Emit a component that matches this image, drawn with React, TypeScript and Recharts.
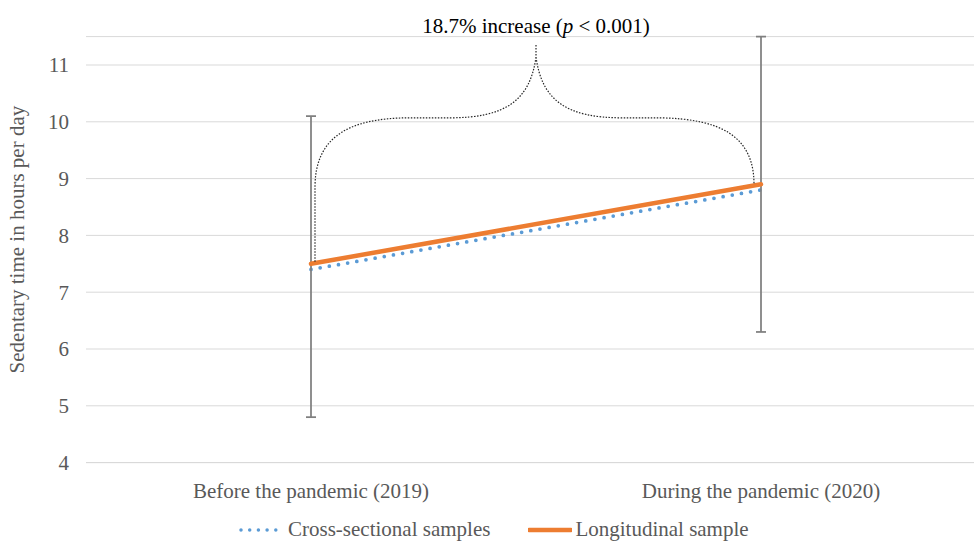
import React from 'react'
import {
  LineChart,
  Line,
  XAxis,
  YAxis,
  CartesianGrid,
  Legend,
  ErrorBar,
  ReferenceLine,
} from 'recharts'

const categories = ['Before the pandemic (2019)', 'During the pandemic (2020)']
const crossSectional = [7.4, 8.8]
const longitudinal = [7.5, 8.9]
const errLow = [2.7, 2.6]
const errHigh = [2.6, 2.6]
const yTicks = [4, 5, 6, 7, 8, 9, 10, 11]

// brace annotation levels (in hours)
const braceShoulder = 10.07
const braceCusp = 11.14
const braceTip = 11.38
const braceTextY = 11.56
const annotation = '18.7% increase'

const FONT = "'Liberation Serif', 'Times New Roman', serif"
const GREY_TEXT = '#595959'
const BLUE = '#5B9BD5'
const ORANGE = '#ED7D31'

const data = categories.map((name, i) => ({
  name,
  cross: crossSectional[i],
  longi: longitudinal[i],
  err: [errLow[i], errHigh[i]],
}))

const Brace = (props: any) => {
  const { x1, y1, x2, y2 } = props
  if ([x1, y1, x2, y2].some((v) => typeof v !== 'number' || isNaN(v))) return null
  // pixels per hour from the segment itself
  const ppu = (y1 - y2) / (longitudinal[1] - longitudinal[0])
  const yv = (v: number) => y1 - (v - longitudinal[0]) * ppu
  const xl = x1 + 4
  const xr = x2 - 7
  const xm = (x1 + x2) / 2
  const ys = yv(braceShoulder)
  const yc = yv(braceCusp)
  const yt = yv(braceTip)
  const d = [
    `M ${xl} ${y1 - 2}`,
    `L ${xl} ${yv(8.85)}`,
    `C ${xl} ${ys + 22} ${xl + 30} ${ys} ${xl + 95} ${ys}`,
    `L ${xm - 86} ${ys}`,
    `C ${xm - 31} ${ys} ${xm - 6} ${ys - 17} ${xm} ${yc}`,
    `L ${xm} ${yt}`,
    `M ${xm} ${yc}`,
    `C ${xm + 6} ${ys - 17} ${xm + 31} ${ys} ${xm + 86} ${ys}`,
    `L ${xr - 94} ${ys}`,
    `C ${xr - 34} ${ys + 1} ${xr} ${ys + 18} ${xr} ${y2}`,
  ].join(' ')
  return (
    <g>
      <path d={d} fill="none" stroke="#262626" strokeWidth={1.2} strokeDasharray="1.5 1.5" />
      <text
        x={xm}
        y={yv(braceTextY)}
        textAnchor="middle"
        fontFamily={FONT}
        fontSize={21}
        fill="#000"
      >
        {annotation} (<tspan fontStyle="italic">p</tspan> &lt; 0.001)
      </text>
    </g>
  )
}

const LegendContent = () => (
  <div
    style={{
      display: 'flex',
      alignItems: 'center',
      paddingLeft: 238,
      fontFamily: FONT,
      fontSize: 21,
      color: GREY_TEXT,
      whiteSpace: 'nowrap',
    }}
  >
    <svg width={46} height={12} style={{ marginRight: 4 }}>
      <line x1={3} y1={6} x2={43} y2={6} stroke={BLUE} strokeWidth={3.5} strokeDasharray="0 8.7" strokeLinecap="round" />
    </svg>
    <span>Cross-sectional samples</span>
    <svg width={44} height={12} style={{ marginLeft: 38, marginRight: 3 }}>
      <line x1={1} y1={6} x2={43} y2={6} stroke={ORANGE} strokeWidth={4.5} strokeLinecap="round" />
    </svg>
    <span>Longitudinal sample</span>
  </div>
)

export default function App() {
  return (
    <div
      style={{
        position: 'absolute',
        left: 0,
        top: 0,
        width: 974,
        height: 542,
        overflow: 'hidden',
        background: '#fff',
      }}
    >
      <LineChart
        width={1000}
        height={542}
        data={data}
        margin={{ top: 36.6, right: 14, left: 0, bottom: 19.4 }}
      >
        <CartesianGrid vertical={false} stroke="#D9D9D9" strokeWidth={1} />
        <XAxis
          dataKey="name"
          scale="band"
          height={60}
          tickSize={0}
          tickMargin={20}
          axisLine={{ stroke: '#D9D9D9' }}
          tick={{ fill: GREY_TEXT, fontSize: 21, fontFamily: FONT }}
        />
        <YAxis
          width={86}
          domain={[4, 11.5]}
          ticks={yTicks}
          allowDataOverflow
          axisLine={false}
          tickLine={false}
          tickSize={0}
          tickMargin={17}
          tick={{ fill: GREY_TEXT, fontSize: 21, fontFamily: FONT }}
          label={({ viewBox }: any) => {
            const cx = 24
            const cy = viewBox.y + viewBox.height / 2 - 10
            return (
              <text
                x={cx}
                y={cy}
                transform={`rotate(-90 ${cx} ${cy})`}
                textAnchor="middle"
                fontFamily={FONT}
                fontSize={21}
                fill={GREY_TEXT}
              >
                Sedentary time in hours per day
              </text>
            )
          }}
        />
        <Legend
          verticalAlign="bottom"
          content={<LegendContent />}
          wrapperStyle={{ top: 517, left: 0, width: 974, height: 0, overflow: 'visible' }}
        />
        <Line
          type="linear"
          dataKey="cross"
          name="Cross-sectional samples"
          stroke={BLUE}
          strokeWidth={3.75}
          strokeDasharray="0 9.3"
          strokeLinecap="round"
          dot={false}
          activeDot={false}
          isAnimationActive={false}
        />
        <Line
          type="linear"
          dataKey="longi"
          name="Longitudinal sample"
          stroke={ORANGE}
          strokeWidth={4.5}
          strokeLinecap="round"
          dot={false}
          activeDot={false}
          isAnimationActive={false}
        >
          <ErrorBar dataKey="err" direction="y" width={5} stroke="#7F7F7F" strokeWidth={1.75} isAnimationActive={false} />
        </Line>
        <ReferenceLine
          segment={[
            { x: categories[0], y: longitudinal[0] },
            { x: categories[1], y: longitudinal[1] },
          ]}
          shape={<Brace />}
        />
      </LineChart>
    </div>
  )
}
